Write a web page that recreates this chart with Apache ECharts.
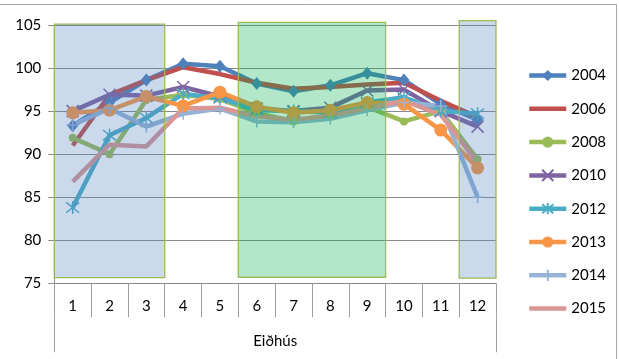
<!DOCTYPE html>
<html>
<head>
<meta charset="utf-8">
<script src="https://cdn.jsdelivr.net/npm/echarts@6/dist/echarts.min.js"></script>
<style>
  html, body { margin: 0; padding: 0; background: #fff; }
  #chart { width: 619px; height: 359px; }
</style>
</head>
<body>
<div id="chart"></div>
<script>
// months on the x axis
const months = ['1', '2', '3', '4', '5', '6', '7', '8', '9', '10', '11', '12']
const groupName = ['Eiðhús']
const yTicks = [75, 80, 85, 90, 95, 100, 105]

// values per year
const y2004 = [93.3, 96.0, 98.6, 100.5, 100.2, 98.2, 97.3, 98.0, 99.4, 98.6, 95.8, 94.0]
const y2006 = [91.0, 96.9, 98.6, 100.1, 99.3, 98.3, 97.6, 97.8, 98.1, 98.3, 96.2, 94.3]
const y2008 = [91.9, 90.0, 96.3, 96.9, 96.4, 94.8, 93.8, 94.5, 95.5, 93.8, 95.0, 89.4]
const y2010 = [95.0, 96.9, 96.8, 97.8, 96.7, 95.3, 95.0, 95.4, 97.4, 97.5, 95.0, 93.2]
const y2012 = [83.8, 92.2, 94.2, 97.0, 96.5, 95.1, 95.0, 94.8, 96.0, 96.6, 95.0, 94.7]
const y2013 = [94.8, 95.1, 96.7, 95.6, 97.2, 95.5, 94.8, 95.1, 96.0, 95.8, 92.8, 88.4]
const y2014 = [93.4, 95.3, 93.2, 94.7, 95.3, 93.8, 93.7, 94.1, 95.1, 96.0, 95.6, 85.0]
const y2015 = [86.8, 91.1, 90.9, 95.3, 95.4, 94.4, 94.0, 94.5, 95.3, 96.2, 94.6, 89.0]

// shaded month ranges
const bandFrom = ['1', '6', '12']
const bandTo = ['3', '9', '12']
const bandLow = [75.65, 75.7, 75.6]
const bandHigh = [105.1, 105.3, 105.5]

const bandColors = ['rgba(79,129,189,0.3)', 'rgba(0,176,80,0.3)', 'rgba(79,129,189,0.3)']
const font = 'Lato'

const years = [
  { name: '2004', data: y2004, color: '#4f81bd', symbol: 'diamond', size: [11, 13] },
  { name: '2006', data: y2006, color: '#c0504d', symbol: 'none', size: 0 },
  { name: '2008', data: y2008, color: '#9bbb59', symbol: 'circle', size: 8 },
  { name: '2010', data: y2010, color: '#8064a2', symbol: 'path://M0,0L10,10M10,0L0,10', size: 12, stroke: true },
  { name: '2012', data: y2012, color: '#4bacc6', symbol: 'path://M0,1L10,9M10,1L0,9M5,0L5,10', size: 13, stroke: true },
  { name: '2013', data: y2013, color: '#f79646', symbol: 'circle', size: 13 },
  { name: '2014', data: y2014, color: '#95b3d7', symbol: 'path://M0,5L10,5M5,0L5,10', size: 12, stroke: true },
  { name: '2015', data: y2015, color: '#d99694', symbol: 'none', size: 0 }
]

const myChart = echarts.init(document.getElementById('chart'))

let series = years.map(function (y) {
  return {
    name: y.name,
    type: 'line',
    data: y.data,
    symbol: y.symbol,
    symbolSize: y.size,
    showSymbol: y.symbol !== 'none',
    itemStyle: {
      color: y.color,
      borderColor: y.color,
      borderWidth: y.stroke ? 1.5 : 0
    },
    lineStyle: { width: 4.5, color: y.color },
    z: 2
  }
})

// shaded ranges, drawn on top of the lines like the original
series.push({
  type: 'custom',
  name: 'bands',
  z: 5,
  silent: true,
  encode: { x: [0, 1], y: [2, 3] },
  data: bandFrom.map(function (f, i) {
    return [months.indexOf(f), months.indexOf(bandTo[i]), bandLow[i], bandHigh[i]]
  }),
  renderItem: function (params, api) {
    let bw = api.size([1, 0])[0]
    let p0 = api.coord([api.value(0), api.value(3)])
    let p1 = api.coord([api.value(1), api.value(2)])
    return {
      type: 'rect',
      shape: {
        x: p0[0] - bw / 2,
        y: p0[1],
        width: p1[0] - p0[0] + bw,
        height: p1[1] - p0[1]
      },
      style: {
        fill: bandColors[params.dataIndex],
        stroke: '#9bbb59',
        lineWidth: 1.3
      }
    }
  }
})

// legend entries: years without markers get no marker in the legend either
let legendData = years.map(function (y) {
  if (y.symbol === 'none') {
    return { name: y.name, itemStyle: { opacity: 0 } }
  }
  return { name: y.name }
})

let option = {
  animation: false,
  textStyle: { fontFamily: font },
  grid: { left: 54.3, right: 123, top: 25, bottom: 75.7 },
  legend: {
    orient: 'vertical',
    left: 522,
    top: 63,
    itemWidth: 37,
    itemHeight: 14,
    itemGap: 18.3,
    data: legendData,
    lineStyle: { width: 4.5 },
    textStyle: { fontFamily: font, fontSize: 15, color: '#000' }
  },
  xAxis: [
    {
      type: 'category',
      data: months,
      boundaryGap: true,
      axisLine: { lineStyle: { color: '#8a8a8a', width: 1 } },
      axisTick: { show: true, interval: 0, length: 34, lineStyle: { color: '#a0a0a0' } },
      axisLabel: { interval: 0, margin: 15, fontFamily: font, fontSize: 15, color: '#000' }
    },
    {
      type: 'category',
      data: groupName,
      position: 'bottom',
      offset: 34,
      boundaryGap: true,
      axisLine: { show: false },
      axisTick: { show: true, length: 35, lineStyle: { color: '#a0a0a0' } },
      axisLabel: { margin: 16, fontFamily: font, fontSize: 15, color: '#000' }
    }
  ],
  yAxis: {
    type: 'value',
    min: yTicks[0],
    max: yTicks[yTicks.length - 1],
    interval: 5,
    axisLine: { show: true, lineStyle: { color: '#8a8a8a' } },
    axisTick: { show: true, length: 6, lineStyle: { color: '#8a8a8a' } },
    axisLabel: { margin: 13, fontFamily: font, fontSize: 15, color: '#000' },
    splitLine: { lineStyle: { color: '#8a8a8a', width: 1 } }
  },
  graphic: [
    {
      type: 'rect',
      shape: { x: -2, y: 4.5, width: 618.5, height: 400 },
      style: { fill: 'none', stroke: '#a6a6a6', lineWidth: 1 },
      silent: true
    }
  ],
  series: series
}

myChart.setOption(option, true)
</script>
</body>
</html>
